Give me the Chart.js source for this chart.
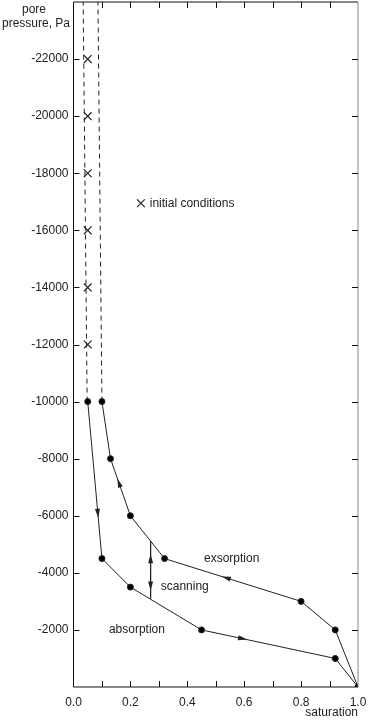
<!DOCTYPE html>
<html>
<head>
<meta charset="utf-8">
<script src="https://cdn.jsdelivr.net/npm/chart.js@4/dist/chart.umd.min.js"></script>
<style>
  body { margin: 0; background: #fff; }
  canvas { display: block; }
</style>
</head>
<body>
<canvas id="chart" width="369" height="724"></canvas>
<script>
// courbe d'exsorption (de la saturation vers la succion)
const exsorption = [
    { x: 1.0, y: 0 }, { x: 0.92, y: -2000 }, { x: 0.80, y: -3000 },
    { x: 0.32, y: -4500 }, { x: 0.20, y: -6000 }, { x: 0.13, y: -8000 },
    { x: 0.10, y: -10000 }
];
// courbe d'absorption
const absorption = [
    { x: 0.05, y: -10000 }, { x: 0.10, y: -4500 }, { x: 0.20, y: -3500 },
    { x: 0.45, y: -2000 }, { x: 0.92, y: -1000 }, { x: 1.0, y: 0 }
];
const absorptionDots = [3, 3, 3, 3, 3, 0];
// prolongements en pointillés
const dashedLeft = [{ x: 0.048, y: -10000 }, { x: 0.034, y: -24000 }];
const dashedRight = [{ x: 0.10, y: -10000 }, { x: 0.086, y: -24000 }];
// conditions initiales
const initialX = 0.05;
const initialPressures = [-22000, -20000, -18000, -16000, -14000, -12000];
// ligne de balayage
const scanning = [{ x: 0.271, y: -5100 }, { x: 0.271, y: -3100 }];
// flèches : segment (de -> vers) et position de la pointe
const arrows = [
    { from: [0.05, -10000], to: [0.10, -4500], at: 0.74 },
    { from: [0.20, -6000], to: [0.13, -8000], at: 0.65 },
    { from: [0.80, -3000], to: [0.32, -4500], at: 0.58 },
    { from: [0.45, -2000], to: [0.92, -1000], at: 0.34 },
    { from: [0.271, -3100], to: [0.271, -5100], at: 0.775 },
    { from: [0.271, -5100], to: [0.271, -3100], at: 0.86 }
];
// légende
const legendCross = [{ x: 0.237, y: -16950 }];
const labels = [
    { text: 'initial conditions', x: 0.268, y: -16950, align: 'left' },
    { text: 'exsorption', x: 0.556, y: -4480, align: 'center' },
    { text: 'scanning', x: 0.391, y: -3500, align: 'center' },
    { text: 'absorption', x: 0.223, y: -2000, align: 'center' }
];
const yTitle = ['pore', 'pressure, Pa'];
const xTitle = 'saturation';

const ink = '#222';
const font = '12px "Liberation Sans", Arial, sans-serif';

// Cadre, graduations intérieures, flèches et textes
const decorations = {
    id: 'decorations',
    afterDatasetsDraw(chart) {
        const ctx = chart.ctx;
        const a = chart.chartArea;
        const xs = chart.scales.x;
        const ys = chart.scales.y;
        const tick = 6;

        ctx.save();
        ctx.lineWidth = 1;
        ctx.strokeStyle = '#111';
        ctx.beginPath();
        ctx.moveTo(a.left, a.top); ctx.lineTo(a.right, a.top);
        ctx.moveTo(a.left, a.top); ctx.lineTo(a.left, a.bottom);
        ctx.moveTo(a.left, a.bottom); ctx.lineTo(a.right, a.bottom);
        ctx.stroke();
        ctx.strokeStyle = '#888';
        ctx.beginPath();
        ctx.moveTo(a.right, a.top); ctx.lineTo(a.right, a.bottom);
        ctx.stroke();

        ctx.strokeStyle = '#111';
        ctx.beginPath();
        xs.ticks.forEach(t => {
            if (t.value <= 0 || t.value >= 1) return;
            const px = Math.round(xs.getPixelForValue(t.value)) + 0.5;
            ctx.moveTo(px, a.bottom); ctx.lineTo(px, a.bottom - tick);
            ctx.moveTo(px, a.top); ctx.lineTo(px, a.top + tick);
        });
        ys.ticks.forEach(t => {
            if (t.value <= -24000 || t.value >= 0) return;
            const py = Math.round(ys.getPixelForValue(t.value)) + 0.5;
            ctx.moveTo(a.left, py); ctx.lineTo(a.left + tick, py);
            ctx.moveTo(a.right, py); ctx.lineTo(a.right - tick, py);
        });
        ctx.stroke();

        // flèches
        ctx.fillStyle = ink;
        arrows.forEach(ar => {
            const x1 = xs.getPixelForValue(ar.from[0]), y1 = ys.getPixelForValue(ar.from[1]);
            const x2 = xs.getPixelForValue(ar.to[0]), y2 = ys.getPixelForValue(ar.to[1]);
            const tx = x1 + (x2 - x1) * ar.at, ty = y1 + (y2 - y1) * ar.at;
            const ang = Math.atan2(y2 - y1, x2 - x1);
            ctx.save();
            ctx.translate(tx, ty);
            ctx.rotate(ang);
            ctx.beginPath();
            ctx.moveTo(0, 0);
            ctx.lineTo(-9, -2.5);
            ctx.lineTo(-9, 2.5);
            ctx.closePath();
            ctx.fill();
            ctx.restore();
        });

        // textes
        ctx.font = font;
        ctx.fillStyle = ink;
        ctx.textBaseline = 'middle';
        labels.forEach(l => {
            ctx.textAlign = l.align;
            ctx.fillText(l.text, xs.getPixelForValue(l.x), ys.getPixelForValue(l.y));
        });
        ctx.textAlign = 'center';
        ctx.fillText(yTitle[0], 34, 10);
        ctx.fillText(yTitle[1], 36, 24);
        ctx.textAlign = 'right';
        ctx.fillText(xTitle, a.right, 713);
        ctx.restore();
    }
};

const lineStyle = {
    borderColor: ink,
    backgroundColor: '#000',
    borderWidth: 1,
    pointRadius: 3,
    pointHoverRadius: 3,
    showLine: true,
    fill: false,
    tension: 0
};

// neutraliser les marges automatiques des axes
function noPadding(scale) {
    scale.paddingTop = 0;
    scale.paddingBottom = 0;
    scale.paddingLeft = 0;
    scale.paddingRight = 0;
}

new Chart(document.getElementById('chart'), {
    type: 'scatter',
    data: {
        datasets: [
            Object.assign({ label: 'exsorption', data: exsorption }, lineStyle),
            Object.assign({}, lineStyle, { label: 'absorption', data: absorption, pointRadius: absorptionDots }),
            Object.assign({}, lineStyle, { label: 'scanning', data: scanning, pointRadius: 0 }),
            Object.assign({}, lineStyle, { label: 'dashed1', data: dashedLeft, pointRadius: 0, borderDash: [5, 4] }),
            Object.assign({}, lineStyle, { label: 'dashed2', data: dashedRight, pointRadius: 0, borderDash: [5, 4] }),
            {
                label: 'initial conditions',
                data: initialPressures.map(p => ({ x: initialX, y: p })),
                pointStyle: 'crossRot',
                pointRadius: 5.5,
                borderColor: ink,
                borderWidth: 1.2,
                showLine: false
            },
            {
                label: 'legend',
                data: legendCross,
                pointStyle: 'crossRot',
                pointRadius: 5.5,
                borderColor: ink,
                borderWidth: 1.2,
                showLine: false
            }
        ]
    },
    options: {
        responsive: false,
        animation: false,
        layout: { autoPadding: false, padding: { top: 2, right: 11, left: 0, bottom: 0 } },
        plugins: {
            legend: { display: false },
            tooltip: { enabled: false }
        },
        scales: {
            x: {
                type: 'linear',
                min: 0,
                max: 1,
                grid: { display: false, drawTicks: false },
                border: { display: false },
                afterFit: scale => { scale.height = 37; noPadding(scale); },
                ticks: {
                    stepSize: 0.1,
                    padding: 8,
                    color: ink,
                    font: { family: '"Liberation Sans", Arial, sans-serif', size: 12 },
                    maxRotation: 0,
                    autoSkip: false,
                    callback: value => Math.round(value * 10) % 2 === 0 ? value.toFixed(1) : ''
                }
            },
            y: {
                type: 'linear',
                min: -24000,
                max: 0,
                reverse: true,
                grid: { display: false, drawTicks: false },
                border: { display: false },
                afterFit: scale => { scale.width = 73.5; noPadding(scale); },
                ticks: {
                    stepSize: 2000,
                    padding: 5,
                    color: ink,
                    font: { family: '"Liberation Sans", Arial, sans-serif', size: 12 },
                    autoSkip: false,
                    callback: value => (value === 0 || value === -24000) ? '' : String(value)
                }
            }
        }
    },
    plugins: [decorations]
});
</script>
</body>
</html>
